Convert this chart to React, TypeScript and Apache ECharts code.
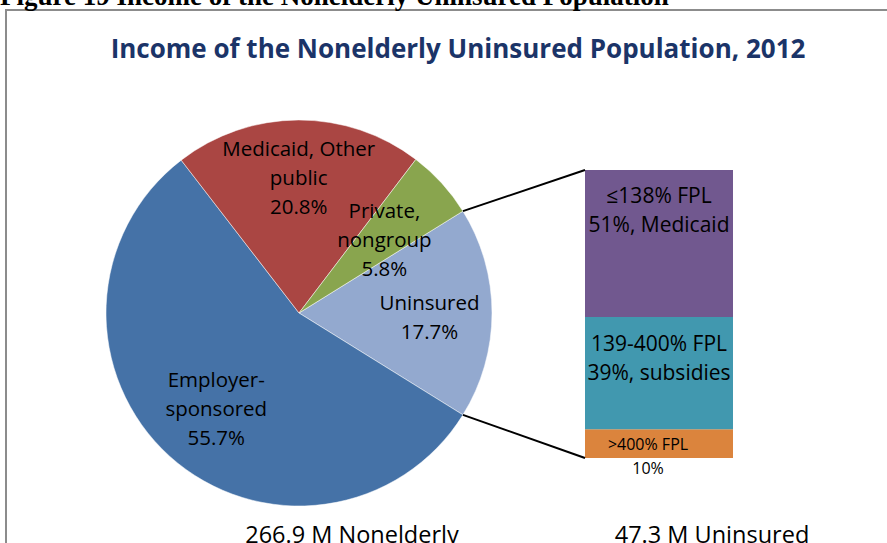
import React, { useEffect, useRef } from "react";
import * as echarts from "echarts";

const pieNames = ["Uninsured", "Employer-sponsored", "Medicaid, Other public", "Private, nongroup"];
const pieValues = [17.7, 55.7, 20.8, 5.8];
const pieLabelLines = ["Uninsured\n17.7%", "Employer-\nsponsored\n55.7%", "Medicaid, Other\npublic\n20.8%", "Private,\nnongroup\n5.8%"];
const pieColors = ["#93A9CF", "#4572A7", "#AA4643", "#89A54E"];
const pieLabelOffsets = [[31, 3], [-16, 21], [0, -37], [14, -9]];

// stacked from bottom to top
const barNames = [">400% FPL", "139-400% FPL", "≤138% FPL"];
const barValues = [10, 39, 51];
const barNotes = ["", "subsidies", "Medicaid"];
const barColors = ["#DB843D", "#4198AF", "#71588F"];

const titleText = "Income of the Nonelderly Uninsured Population, 2012";
const headerText = "Figure 19 Income of the Nonelderly Uninsured Population";
const footLeft = "266.9 M Nonelderly";
const footRight = "47.3 M Uninsured";

const FONT = "'Open Sans', sans-serif";

export default function App() {
  const ref = useRef<HTMLDivElement>(null);
  useEffect(() => {
    if (!ref.current) return;
    const chart = echarts.init(ref.current, null, { renderer: "svg" });
    const cx = 299, cy = 313, R = 193;
    const total = pieValues.reduce((a, b) => a + b, 0);
    const angles = pieValues.map((v) => (v / total) * 360);
    const startAngle = angles[0] / 2;
    const gLeft = 585, gTop = 170, gW = 148, gH = 288;
    const rad = (d: number) => (d * Math.PI) / 180;
    const p1 = [cx + R * Math.cos(rad(startAngle)), cy - R * Math.sin(rad(startAngle))];
    const p2 = [cx + R * Math.cos(rad(startAngle - angles[0])), cy - R * Math.sin(rad(startAngle - angles[0]))];
    // small "Private" slice lies just counter-clockwise of the start angle
    const privMid = startAngle + angles[3] / 2;
    const privPos = [
      cx + (R / 2) * Math.cos(rad(privMid)) + pieLabelOffsets[3][0],
      cy - (R / 2) * Math.sin(rad(privMid)) + pieLabelOffsets[3][1],
    ];

    const barSeries = barNames.map((n, i) => {
      let label: any;
      if (i === 0) {
        label = {
          show: true,
          position: "inside",
          offset: [-11, 12],
          formatter: `{a|${n}}\n{b|${barValues[i]}%}`,
          rich: {
            a: { fontSize: 16, lineHeight: 24, color: "#000", fontFamily: FONT },
            b: { fontSize: 16, lineHeight: 24, color: "#000", fontFamily: FONT },
          },
        };
      } else {
        label = {
          show: true,
          position: "insideTop",
          distance: i === 2 ? 10 : 12,
          formatter: `${n}\n${barValues[i]}%, ${barNotes[i]}`,
          fontSize: 21,
          lineHeight: 29,
          color: "#000",
          fontFamily: FONT,
        };
      }
      return {
        type: "bar",
        name: n,
        stack: "u",
        xAxisIndex: 0,
        yAxisIndex: 0,
        barWidth: "100%",
        data: [barValues[i]],
        itemStyle: { color: barColors[i] },
        label,
      };
    });

    chart.setOption({
      animation: false,
      title: {
        text: titleText,
        left: 453,
        top: 30,
        textAlign: "center",
        textStyle: { fontSize: 26, fontWeight: "bold", color: "#1B3468", fontFamily: FONT },
      },
      grid: { left: gLeft, top: gTop, width: gW, height: gH },
      xAxis: { type: "category", data: ["Uninsured"], show: false },
      yAxis: { type: "value", min: 0, max: 100, show: false },
      series: [
        {
          type: "pie",
          center: [cx, cy],
          radius: R,
          startAngle,
          clockwise: true,
          data: pieNames.map((n, i) => ({
            name: n,
            value: pieValues[i],
            itemStyle: { color: pieColors[i] },
            label: i === 3 ? { show: false } : { offset: pieLabelOffsets[i] },
          })),
          itemStyle: { borderColor: "#fff", borderWidth: 0.5 },
          label: {
            show: true,
            position: "inside",
            formatter: (p: any) => pieLabelLines[p.dataIndex],
            fontSize: 20.5,
            lineHeight: 29,
            color: "#000",
            fontFamily: FONT,
          },
          labelLine: { show: false },
          emphasis: { disabled: true },
        },
        ...barSeries,
      ],
      graphic: [
        {
          type: "rect",
          shape: { x: 6, y: 10, width: 920, height: 600 },
          style: { fill: "none", stroke: "#8c8c8c", lineWidth: 2 },
          silent: true,
        },
        {
          type: "text",
          x: 0,
          y: 9,
          style: {
            text: headerText,
            font: "bold 27px 'Liberation Serif', 'Times New Roman', serif",
            fill: "#000",
            verticalAlign: "bottom",
          },
        },
        {
          type: "line",
          z: 100,
          shape: { x1: p1[0], y1: p1[1], x2: gLeft, y2: gTop },
          style: { stroke: "#000", lineWidth: 2 },
        },
        {
          type: "line",
          z: 100,
          shape: { x1: p2[0], y1: p2[1], x2: gLeft, y2: gTop + gH },
          style: { stroke: "#000", lineWidth: 2 },
        },
        {
          type: "text",
          z: 100,
          x: privPos[0],
          y: privPos[1],
          style: {
            text: pieLabelLines[3],
            fontSize: 20.5,
            lineHeight: 29,
            fontFamily: FONT,
            fill: "#000",
            align: "center",
            verticalAlign: "middle",
          },
        },
        {
          type: "text",
          x: 352,
          y: 534,
          style: { text: footLeft, fontSize: 23.5, fontFamily: FONT, fill: "#000", align: "center", verticalAlign: "middle" },
        },
        {
          type: "text",
          x: 712,
          y: 534,
          style: { text: footRight, fontSize: 23.5, fontFamily: FONT, fill: "#000", align: "center", verticalAlign: "middle" },
        },
      ],
    });
    return () => chart.dispose();
  }, []);
  return (
    <div
      ref={ref}
      style={{ position: "absolute", left: 0, top: 0, width: 887, height: 543, background: "#fff" }}
    />
  );
}
